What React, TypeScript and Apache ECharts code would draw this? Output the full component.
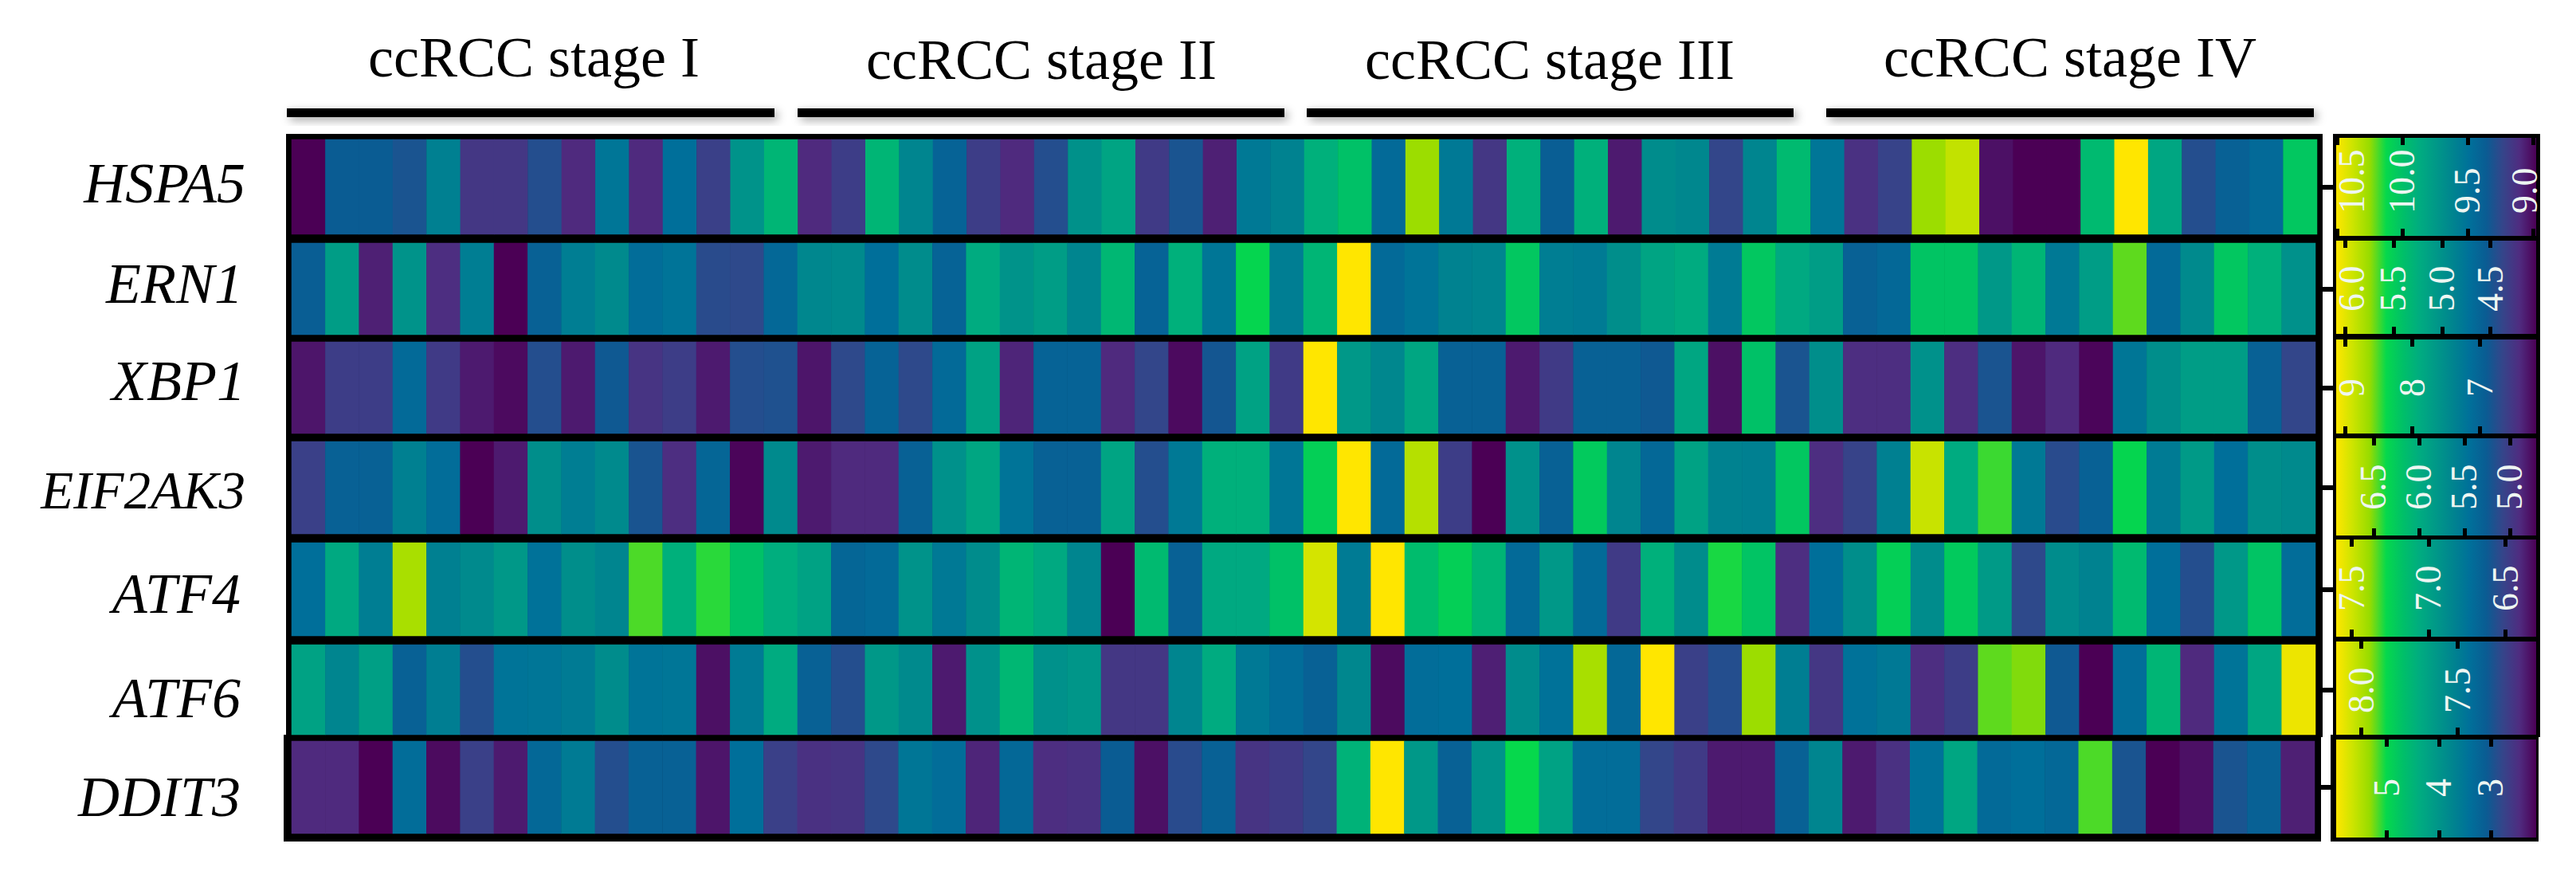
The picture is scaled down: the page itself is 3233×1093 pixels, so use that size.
import React, { useEffect, useRef } from "react";
import * as echarts from "echarts";

const W = 3233;
const H = 1093;

const genes = ["HSPA5", "ERN1", "XBP1", "EIF2AK3", "ATF4", "ATF6", "DDIT3"];
const stages = ["ccRCC stage I", "ccRCC stage II", "ccRCC stage III", "ccRCC stage IV"];

// Position of each sample on each gene's colour scale (0 = darkest purple, 1 = yellow)
const hspa5 = [0,.25,.25,.22,.4,.12,.12,.2,.08,.36,.08,.33,.15,.48,.62,.08,.14,.62,.42,.28,.14,.08,.2,.47,.55,.13,.22,.06,.37,.41,.6,.67,.31,.84,.37,.12,.6,.26,.6,.05,.45,.43,.17,.42,.64,.36,.1,.16,.84,.9,.03,0,0,.64,1,.56,.2,.27,.31,.69];
const ern1 = [.26,.52,.06,.48,.09,.39,0,.27,.39,.44,.32,.35,.19,.18,.3,.43,.44,.33,.45,.28,.58,.48,.52,.42,.63,.28,.6,.36,.74,.39,.62,1,.31,.35,.41,.42,.69,.39,.38,.46,.55,.58,.38,.69,.57,.52,.27,.3,.68,.68,.5,.62,.37,.52,.8,.31,.44,.69,.6,.47];
const xbp1 = [.04,.14,.14,.31,.13,.05,.02,.2,.05,.24,.11,.14,.05,.2,.21,.04,.18,.28,.18,.31,.54,.07,.28,.28,.08,.17,.02,.23,.54,.13,1,.5,.43,.56,.27,.27,.05,.13,.27,.27,.24,.56,.03,.67,.22,.46,.09,.09,.47,.09,.22,.04,.08,.01,.36,.46,.52,.52,.27,.17];
const eif2ak3 = [.15,.27,.27,.4,.32,0,.05,.46,.39,.44,.22,.09,.29,.01,.44,.05,.08,.08,.27,.47,.56,.35,.27,.27,.55,.2,.37,.6,.6,.36,.72,1,.31,.88,.14,0,.47,.27,.7,.42,.3,.54,.41,.4,.69,.09,.16,.4,.91,.58,.78,.37,.19,.27,.74,.38,.51,.33,.46,.44];
const atf4 = [.33,.57,.39,.86,.4,.44,.5,.34,.46,.42,.79,.6,.77,.67,.59,.54,.29,.31,.48,.37,.45,.62,.57,.42,0,.64,.27,.57,.57,.67,.93,.38,1,.65,.72,.62,.31,.5,.31,.13,.6,.45,.76,.68,.09,.33,.46,.72,.45,.7,.51,.18,.45,.41,.64,.33,.2,.5,.68,.32];
const atf6 = [.54,.42,.53,.27,.39,.2,.35,.36,.38,.45,.35,.36,.03,.38,.58,.27,.2,.5,.44,.05,.47,.63,.47,.49,.12,.12,.42,.58,.37,.32,.27,.43,.02,.32,.33,.06,.45,.34,.86,.3,1,.15,.2,.84,.39,.12,.34,.37,.09,.14,.8,.82,.24,0,.32,.62,.08,.35,.56,.97];
const ddit3 = [.08,.08,0,.32,.02,.15,.05,.3,.38,.2,.27,.27,.04,.33,.15,.1,.11,.18,.36,.32,.07,.3,.09,.1,.25,.03,.19,.27,.11,.13,.17,.61,1,.5,.27,.48,.75,.54,.32,.32,.17,.13,.05,.05,.27,.42,.05,.1,.34,.56,.31,.33,.3,.79,.22,0,.03,.22,.27,.06];
const levels = [hspa5, ern1, xbp1, eif2ak3, atf4, atf6, ddit3];

// Colour-bar scale of each gene
const scaleMax = [10.505, 6.09, 9.13, 6.91, 7.6, 8.13, 5.98];
const scaleMin = [8.976, 4.03, 6.16, 4.71, 6.3, 7.09, 2.12];
const tickLabels = [
  ["10.5", "10.0", "9.5", "9.0"],
  ["6.0", "5.5", "5.0", "4.5"],
  ["9", "8", "7"],
  ["6.5", "6.0", "5.5", "5.0"],
  ["7.5", "7.0", "6.5"],
  ["8.0", "7.5"],
  ["5", "4", "3"],
];

const palette = ["#4B0055","#4F2C80","#35458A","#0A5C93","#00709A","#00848F","#009888","#00AC80","#00C068","#06D84C","#98DC00","#CCE400","#FFE600"];

// Layout, in page pixels
const heatLeft = 366;
const heatRight = [2908, 2906, 2906, 2906, 2906, 2906, 2905];
const heatTop = [175, 305, 429, 554, 681, 809, 930];
const heatBottom = [294, 420, 544, 670, 798, 922, 1046];
const barTop = [173, 302, 426, 550, 677, 805, 928];
const barBottom = [296, 419, 544, 672, 799, 922, 1051];
const barLeft = 2932;
const barRight = 3183;
const barLabelMargin = [28, 28, 46, 32, 32, 27, 51];
const geneMargin = [58, 61, 58, 58, 64, 64, 64];
const geneSize = [72, 72, 72, 67, 72, 72, 72];
const geneCentre = [230, 356, 478, 615, 745, 876, 1000];
const stageCentre = [670, 1307, 1945, 2598];
const stageY = [72, 75, 75, 72];
const rulesFrom = [360, 1001, 1640, 2292];
const rulesTo = [972, 1612, 2251, 2904];

const SERIF = "'Liberation Serif', serif";

function buildOption() {
  const grid: any[] = [];
  const xAxis: any[] = [];
  const yAxis: any[] = [];
  const series: any[] = [];
  const visualMap: any[] = [];
  const sampleIds = levels[0].map((_, i) => "S" + (i + 1));
  const stops = palette.map((color, i) => ({ offset: i / (palette.length - 1), color }));

  genes.forEach((gene, r) => {
    const min = scaleMin[r];
    const max = scaleMax[r];
    const heatGrid = grid.length;
    const rowH = heatBottom[r] - heatTop[r];
    grid.push({ left: heatLeft, width: heatRight[r] - heatLeft, top: heatTop[r], height: rowH, containLabel: false });
    const hx = xAxis.length;
    xAxis.push({ gridIndex: heatGrid, type: "category", data: sampleIds, show: false });
    // gene name on a 0..1 axis, so it can sit off the row's middle as it does in the figure
    yAxis.push({
      gridIndex: heatGrid, type: "value", min: 0, max: 1, position: "left",
      axisLine: { show: false }, axisTick: { show: false }, splitLine: { show: false },
      axisLabel: {
        margin: geneMargin[r], color: "#000", fontFamily: SERIF, fontStyle: "italic", fontSize: geneSize[r],
        customValues: [(heatBottom[r] - geneCentre[r]) / rowH], hideOverlap: false, formatter: () => gene,
      },
    });
    const hy = yAxis.length;
    yAxis.push({
      gridIndex: heatGrid, type: "category", data: [gene], position: "right",
      axisLine: { show: false }, splitLine: { show: false }, axisLabel: { show: false },
      axisTick: { show: true, alignWithLabel: true, inside: false, length: 24, lineStyle: { color: "#000", width: 6 } },
    });
    const data = levels[r].map((l, i) => [i, 0, +(min + l * (max - min)).toFixed(3)]);
    visualMap.push({ show: false, seriesIndex: series.length, dimension: 2, min, max, inRange: { color: palette } });
    series.push({ type: "heatmap", xAxisIndex: hx, yAxisIndex: hy, data, progressive: 0, itemStyle: { borderWidth: 0 }, emphasis: { disabled: true } });

    // colour bar: a value axis running from high (left) to low (right)
    const barGrid = grid.length;
    grid.push({
      left: barLeft, width: barRight - barLeft, top: barTop[r], height: barBottom[r] - barTop[r],
      show: true, borderWidth: 0,
      backgroundColor: new echarts.graphic.LinearGradient(1, 0, 0, 0, stops),
    });
    const ticks = tickLabels[r].map(Number);
    const pxPerUnit = (barRight - barLeft) / (max - min);
    const lo = max - (3168 - barLeft) / pxPerUnit;
    const hi = max - (2951 - barLeft) / pxPerUnit;
    const labelAt = ticks.map((t) => Math.max(lo, Math.min(hi, t)));
    const tickStyle = { show: true, inside: true, length: 9, customValues: ticks, lineStyle: { color: "#000", width: 5 } };
    xAxis.push({
      gridIndex: barGrid, type: "value", inverse: true, min, max, position: "bottom",
      axisLine: { show: false }, splitLine: { show: false }, axisTick: tickStyle,
      axisLabel: {
        show: true, inside: true, rotate: 90, margin: barLabelMargin[r], color: "#EEF6F2",
        fontFamily: SERIF, fontSize: 46, customValues: labelAt, hideOverlap: false,
        formatter: (v: number) => {
          let best = 0;
          labelAt.forEach((p, i) => { if (Math.abs(p - v) < Math.abs(labelAt[best] - v)) best = i; });
          return tickLabels[r][best];
        },
      },
    });
    xAxis.push({
      gridIndex: barGrid, type: "value", inverse: true, min, max, position: "top",
      axisLine: { show: false }, splitLine: { show: false }, axisTick: tickStyle, axisLabel: { show: false },
    });
    yAxis.push({ gridIndex: barGrid, type: "value", show: false });
  });

  const shadow = { shadowBlur: 12, shadowColor: "rgba(0,0,0,0.35)", shadowOffsetX: 4, shadowOffsetY: 4 };
  const graphic: any[] = [
    { type: "rect", z: -10, shape: { x: 359, y: 168, width: 2556, height: 757 }, style: { fill: "#000" } },
    { type: "rect", z: -10, shape: { x: 356, y: 922, width: 2557, height: 134 }, style: { fill: "#000" } },
    { type: "rect", z: -10, shape: { x: 2928, y: 168, width: 260, height: 757 }, style: { fill: "#000" } },
    { type: "rect", z: -10, shape: { x: 2925, y: 922, width: 261, height: 134 }, style: { fill: "#000" } },
  ];
  stages.forEach((label, i) => {
    graphic.push({
      type: "rect", z: -10,
      shape: { x: rulesFrom[i], y: 136, width: rulesTo[i] - rulesFrom[i], height: 11 },
      style: { fill: "#000", ...shadow },
    });
    graphic.push({
      type: "text", z: 5, x: stageCentre[i], y: stageY[i],
      style: { text: label, fill: "#000", font: `72px ${SERIF}`, textAlign: "center", textVerticalAlign: "middle" },
    });
  });

  return { animation: false, backgroundColor: "#fff", grid, xAxis, yAxis, series, visualMap, graphic };
}

export default function App() {
  const ref = useRef<HTMLDivElement>(null);
  useEffect(() => {
    document.body.style.margin = "0";
    document.body.style.overflow = "hidden";
    const chart = echarts.init(ref.current!, undefined, { renderer: "svg" });
    chart.setOption(buildOption() as any);
    return () => chart.dispose();
  }, []);
  return <div ref={ref} style={{ width: W, height: H }} />;
}
